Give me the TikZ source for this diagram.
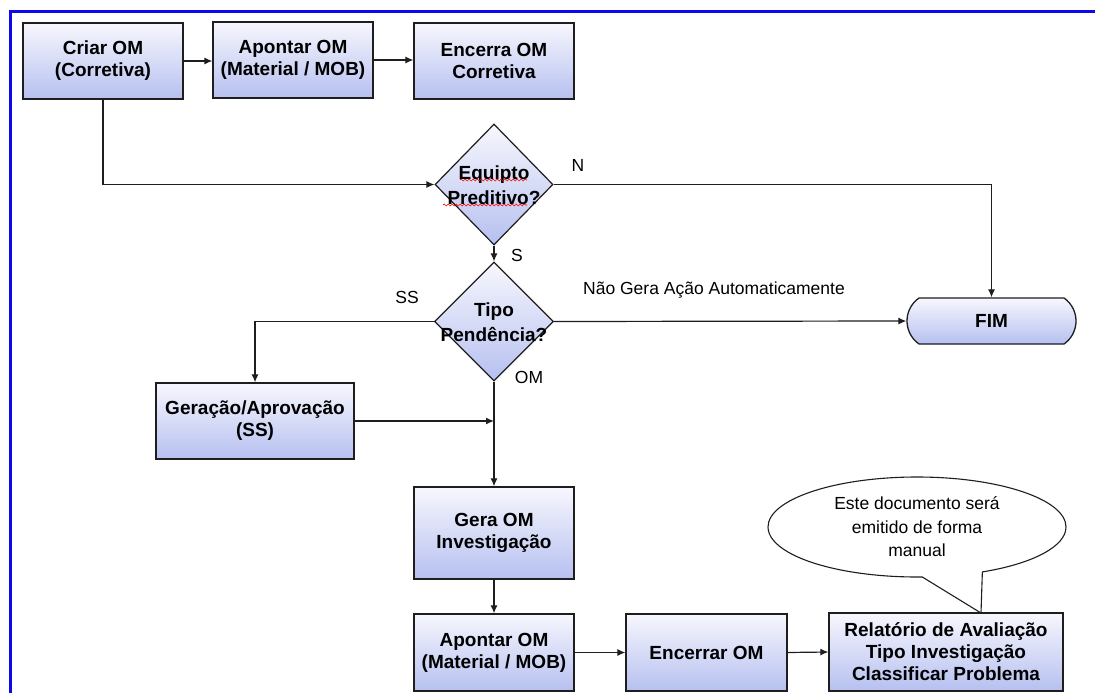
\documentclass[tikz,border=0pt]{standalone}
\usepackage{fontspec}
\setmainfont{Liberation Sans}
\usetikzlibrary{shapes.geometric,shapes.misc,shapes.callouts,arrows.meta,decorations.pathmorphing}
\definecolor{gtop}{RGB}{247,247,253}
\definecolor{gbot}{RGB}{182,192,240}
\definecolor{ln}{RGB}{30,30,30}
\definecolor{frame}{RGB}{10,10,235}
\tikzset{
  box/.style={draw=ln,line width=1.3pt,top color=gtop,bottom color=gbot,inner sep=0pt,align=center,
    font=\fontsize{19}{22}\selectfont\bfseries},
  dia/.style={draw=ln,line width=1.2pt,diamond,top color=gtop,bottom color=gbot,inner sep=0pt},
  ditext/.style={align=center,font=\fontsize{19}{25}\selectfont\bfseries,inner sep=0pt},
  lbl/.style={font=\fontsize{17.5}{20}\selectfont,inner sep=0pt},
  conn/.style={draw=ln,line width=1.2pt},
  arr/.style={conn,-{Latex[length=8pt,width=7pt]}},
  squig/.style={draw=red,line width=0.6pt,decorate,decoration={snake,amplitude=1pt,segment length=4pt}}
}
\begin{document}
\begin{tikzpicture}[x=1pt,y=-1pt]
\useasboundingbox (0,0) rectangle (1095,693);
\fill[white] (0,0) rectangle (1095,693);
% blue frame
\draw[frame,line width=3pt] (1095,12) -- (10,12) -- (10,693);

% top row
\node[box,minimum width=160pt,minimum height=76pt] (criar) at (103,61) {Criar OM\\(Corretiva)};
\node[box,minimum width=160pt,minimum height=76pt] (apont) at (293,60) {Apontar OM\\(Material / MOB)};
\node[box,minimum width=160pt,minimum height=76pt] (encer) at (494,61) {Encerra OM\\Corretiva};

% decisions
\node[dia,minimum width=118pt,minimum height=121pt] (d1) at (494,184.5) {};
\node[ditext] (d1t) at (494,185) {Equipto\\Preditivo?};
\draw[squig] (460,180) -- (527,180);
\draw[squig] (443,205) -- (527,205);
\node[dia,minimum width=119pt,minimum height=119pt] (d2) at (494,321.5) {};
\node[ditext] (d2t) at (494,322) {Tipo\\Pendência?};

% FIM
\node[box,rounded rectangle,rounded rectangle arc length=110,minimum width=169pt,minimum height=46pt] (fim) at (991.5,321) {FIM};

% middle
\node[box,minimum width=198pt,minimum height=76pt] (gerac) at (255,421) {Geração/Aprovação\\(SS)};
\node[box,minimum width=160pt,minimum height=92pt] (gera) at (494,533) {Gera OM\\Investigação};

% bottom row
\node[box,minimum width=160pt,minimum height=77pt] (ap2) at (494,652.5) {Apontar OM\\(Material / MOB)};
\node[box,minimum width=161pt,minimum height=77pt] (enc2) at (706.5,652.5) {Encerrar OM};
\node[box,minimum width=234pt,minimum height=78pt] (rel) at (946,652) {Relatório de Avaliação\\Tipo Investigação\\Classificar Problema};

% callout
\coordinate (tip) at (981,613);
\node[ellipse callout,draw=ln,line width=1.1pt,fill=white,minimum width=298pt,minimum height=100pt,
  callout absolute pointer={(tip)},callout pointer arc=24,align=center,
  font=\fontsize{17.5}{23.5}\selectfont] (note) at (917,527) {Este documento será\\emitido de forma\\manual};

% connectors
\draw[arr] (criar.east) -- (apont.west |- criar.east);
\draw[arr] (apont.east) -- (encer.west |- apont.east);
\draw[arr] (criar.south) |- (d1.west);
\draw[arr] (d1.east) -| (fim.north);
\draw[arr] (d1.south) -- (d2.north);
\draw[arr] (d2.east) -- (fim.west);
\draw[arr] (d2.west) -| (gerac.north);
\draw[arr] (d2.south) -- (gera.north);
\coordinate (j) at (d2.south |- gerac.east);
\draw[arr] (gerac.east) -- (j);
\draw[arr] (gera.south) -- (ap2.north);
\draw[arr] (ap2.east) -- (enc2.west);
\draw[arr] (enc2.east) -- (rel.west);

% labels
\node[lbl] (lN) at (578,165) {N};
\node[lbl] (lS) at (517,255) {S};
\node[lbl] (lNao) at (714,290) {Não Gera Ação Automaticamente};
\node[lbl] (lSS) at (407,297) {SS};
\node[lbl] (lOM) at (529,377) {OM};
\end{tikzpicture}
\end{document}
